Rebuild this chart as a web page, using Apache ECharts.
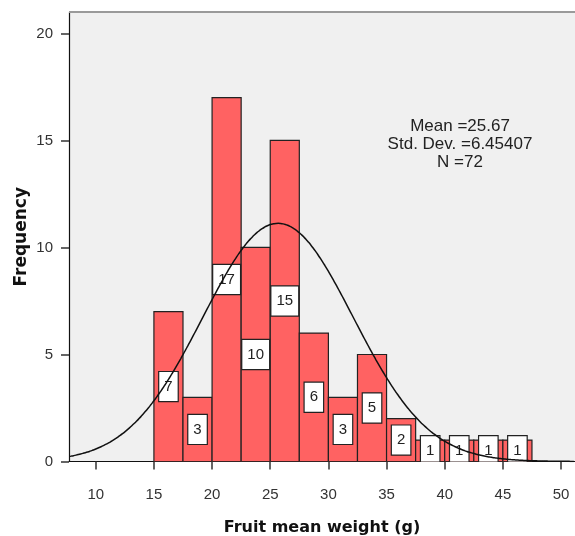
<!DOCTYPE html>
<html>
<head>
<meta charset="utf-8">
<script src="https://cdn.jsdelivr.net/npm/echarts@6/dist/echarts.min.js"></script>
<style>
  html, body { margin: 0; padding: 0; background: #ffffff; }
  #chart { width: 575px; height: 536px; }
</style>
</head>
<body>
<div id="chart"></div>
<script>
// Histogram bins (g): lower edge, upper edge and count per bin
const binStarts = [15, 17.5, 20, 22.5, 25, 27.5, 30, 32.5, 35, 37.5, 40, 42.5, 45];
const binWidth = 2.5;
const counts = [7, 3, 17, 10, 15, 6, 3, 5, 2, 1, 1, 1, 1];

// Summary statistics shown in the plot
const meanValue = 25.67;
const stdDev = 6.45407;
const sampleN = 72;

// Tick labels
const xTicks = [10, 15, 20, 25, 30, 35, 40, 45, 50];
const yTicks = [0, 5, 10, 15, 20];

const xMin = 7.7, xMax = 51.2;

const binData = binStarts.map((s, i) => [s, s + binWidth, counts[i]]);

// Fitted normal curve scaled to frequency (N * bin width * density)
const curve = [];
for (let x = xMin; x <= xMax + 1e-9; x += 0.2) {
  const z = (x - meanValue) / stdDev;
  const y = sampleN * binWidth * Math.exp(-0.5 * z * z) / (stdDev * Math.sqrt(2 * Math.PI));
  curve.push([x, y]);
}

const tickFont = '"Liberation Sans", Arial, sans-serif';
const titleFont = '"DejaVu Sans", Verdana, sans-serif';

const chart = echarts.init(document.getElementById('chart'), null, { renderer: 'canvas' });

chart.setOption({
  animation: false,
  backgroundColor: '#ffffff',
  grid: {
    left: 69, right: 0, top: 12, bottom: 74.5,
    outerBoundsMode: 'none',
    show: true, backgroundColor: '#F0F0F0', borderWidth: 0
  },
  xAxis: {
    type: 'value', min: xMin, max: xMax,
    name: 'Fruit mean weight (g)', nameLocation: 'middle', nameGap: 58, nameMoveOverlap: false,
    nameTextStyle: { fontFamily: titleFont, fontWeight: 'bold', fontSize: 16, color: '#111', lineHeight: 16 },
    axisLine: { show: true, onZero: false, lineStyle: { color: '#111', width: 1.2 } },
    axisTick: { show: true, customValues: xTicks, length: 8, lineStyle: { color: '#333', width: 1.5 } },
    axisLabel: { customValues: xTicks, margin: 26, fontFamily: tickFont, fontSize: 15, color: '#333' },
    splitLine: { show: false }
  },
  yAxis: {
    type: 'value', min: 0, max: 21,
    name: 'Frequency', nameLocation: 'middle', nameGap: 39, nameMoveOverlap: false,
    nameTextStyle: { fontFamily: titleFont, fontWeight: 'bold', fontSize: 17, color: '#111' },
    axisLine: { show: true, lineStyle: { color: '#111', width: 1.2 } },
    axisTick: { show: true, customValues: yTicks, length: 8, lineStyle: { color: '#333', width: 1.5 } },
    axisLabel: { customValues: yTicks, margin: 16, fontFamily: tickFont, fontSize: 15, color: '#333' },
    splitLine: { show: false }
  },
  graphic: [
    {
      type: 'line', z: 10,
      shape: { x1: 69, y1: 12, x2: 575, y2: 12 },
      style: { stroke: '#9a9a9a', lineWidth: 2 }
    },
    {
      type: 'text', x: 460, y: 144, z: 10,
      style: {
        text: 'Mean =' + meanValue.toFixed(2) + '\nStd. Dev. =' + stdDev + '\nN =' + sampleN,
        align: 'center', verticalAlign: 'middle', lineHeight: 18,
        font: '17px ' + tickFont, fill: '#222'
      }
    }
  ],
  series: [
    {
      type: 'custom', z: 2, clip: true,
      data: binData,
      renderItem: function (params, api) {
        const x0 = api.value(0), x1 = api.value(1), v = api.value(2);
        const p0 = api.coord([x0, v]);
        const p1 = api.coord([x1, 0]);
        return {
          type: 'rect',
          shape: { x: p0[0], y: p0[1], width: p1[0] - p0[0], height: p1[1] - p0[1] },
          style: { fill: '#FF6262', stroke: '#222', lineWidth: 1.2 }
        };
      }
    },
    {
      type: 'custom', z: 3, clip: true,
      data: binData,
      renderItem: function (params, api) {
        const x0 = api.value(0), x1 = api.value(1), v = api.value(2);
        const mid = api.coord([(x0 + x1) / 2, v / 2]);
        return {
          type: 'text', x: mid[0], y: mid[1],
          style: {
            text: String(v), align: 'center', verticalAlign: 'middle',
            font: '15px ' + tickFont, fill: '#222', lineHeight: 17,
            backgroundColor: '#ffffff', borderColor: '#222', borderWidth: 1.2,
            padding: [6, 5]
          }
        };
      }
    },
    {
      type: 'line', z: 4, data: curve, showSymbol: false, smooth: true,
      lineStyle: { color: '#111', width: 1.5 }
    }
  ]
});
</script>
</body>
</html>
